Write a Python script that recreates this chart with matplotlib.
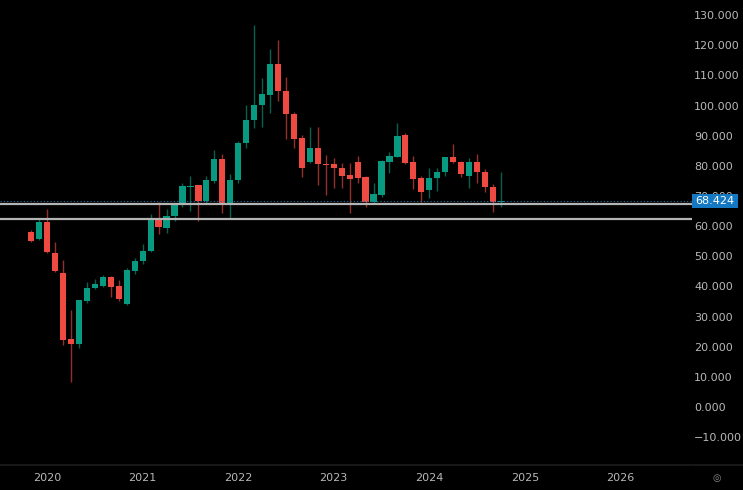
import numpy as np
import pandas as pd
import matplotlib
matplotlib.use("Agg")
import matplotlib.pyplot as plt
from matplotlib.patches import Rectangle
from matplotlib.lines import Line2D
from matplotlib.transforms import blended_transform_factory

# monthly candles, Nov 2019 .. Oct 2024
first_month = "2019-11"
opens = [57.9, 55.6, 61.3, 51.2, 44.3, 22.4, 20.9, 35.3, 39.4, 40.1, 43.1, 40.1,
         34.3, 45.2, 48.4, 51.7, 62.3, 59.5, 63.4, 67.2, 73.0, 73.5, 68.4, 75.1,
         82.3, 66.9, 75.3, 87.5, 95.1, 100.2, 103.5, 113.9, 104.9, 97.3, 89.1, 81.2,
         85.8, 80.5, 80.5, 79.4, 76.9, 81.2, 76.2, 67.9, 70.3, 81.4, 83.0, 90.2,
         81.2, 75.9, 72.0, 75.8, 77.9, 82.9, 81.3, 76.6, 81.4, 78.0, 73.1, 68.1]
highs = [58.7, 62.2, 65.7, 54.8, 48.8, 32.2, 35.5, 41.6, 42.5, 43.8, 43.4, 42.1,
         46.2, 49.4, 54.1, 63.9, 68.0, 65.6, 67.0, 74.2, 76.6, 73.8, 76.6, 85.2,
         83.9, 77.3, 88.3, 100.2, 126.7, 109.2, 118.7, 121.6, 109.6, 97.7, 90.2, 92.8,
         93.0, 83.6, 82.7, 80.8, 80.8, 83.4, 76.5, 74.4, 81.8, 84.5, 94.1, 90.8,
         83.4, 76.7, 79.4, 79.4, 83.0, 87.2, 81.5, 82.5, 84.0, 78.9, 74.0, 78.0]
lows = [54.7, 55.4, 51.2, 44.9, 20.6, 8.4, 19.7, 34.6, 39.0, 39.9, 36.4, 35.2,
        33.7, 44.1, 47.3, 51.5, 57.4, 57.8, 61.8, 66.5, 65.1, 61.8, 67.2, 74.2,
        64.4, 62.5, 74.4, 86.0, 92.4, 93.0, 97.4, 101.5, 88.8, 85.8, 76.4, 80.8,
        73.6, 70.3, 72.7, 72.7, 64.4, 74.2, 66.4, 67.2, 69.8, 77.5, 82.8, 80.6,
        72.3, 68.1, 69.4, 71.6, 76.6, 81.0, 76.3, 72.7, 74.4, 71.4, 64.8, 66.4]
closes = [55.1, 61.5, 51.5, 45.2, 22.2, 20.9, 35.5, 39.6, 40.8, 43.1, 39.9, 35.8,
          45.4, 48.5, 51.8, 62.3, 59.6, 63.4, 66.9, 73.2, 73.4, 68.4, 75.3, 82.3,
          66.9, 75.3, 87.7, 95.2, 100.3, 103.8, 113.9, 104.8, 97.2, 88.9, 79.2, 85.8,
          80.5, 80.2, 79.2, 76.7, 75.7, 76.1, 67.9, 70.5, 81.6, 83.2, 90.0, 81.0,
          75.7, 71.4, 76.1, 78.0, 82.9, 81.3, 77.2, 81.4, 77.8, 73.1, 68.1, 68.424]

# horizontal levels drawn on the chart
levels = [67.2, 62.4]
last_price = 68.424

y_ticks = list(range(-10, 140, 10))
years = ["2020", "2021", "2022", "2023", "2024", "2025", "2026"]

UP = "#089981"
DOWN = "#ef4a42"
UP_WICK = "#06604f"
DOWN_WICK = "#94302b"
TXT = "#b8b8b8"


def draw_chart():
    fig = plt.figure(figsize=(7.43, 4.90), dpi=100, facecolor="black")
    ax = fig.add_axes([0, 25 / 490, 692 / 743, 465 / 490], facecolor="black")

    o = np.array(opens)
    h = np.array(highs)
    l = np.array(lows)
    c = np.array(closes)
    x = np.arange(len(o))
    up = c >= o
    cols = [UP if u else DOWN for u in up]
    wcols = [UP_WICK if u else DOWN_WICK for u in up]

    # wicks then bodies
    ax.vlines(x, l, h, colors=wcols, linewidth=1, zorder=2)
    body = np.maximum(np.abs(c - o), 0.35)
    ax.bar(x, body, bottom=np.minimum(o, c), width=0.78, color=cols,
           linewidth=0, zorder=3)

    # support lines + last price line
    for lv in levels:
        ax.axhline(lv, color="#b4b4b4", linewidth=1.6, zorder=4)
    ax.axhline(last_price, color="#1f6fa5", linewidth=0.8, linestyle=(0, (1, 2)),
               zorder=4)

    ax.set_xlim(-3.92, 83.0)
    ax.set_ylim(-19.24, 135.0)

    # year ticks on the january bars
    months = pd.period_range(first_month, periods=90, freq="M")
    jan_idx = [i for i, m in enumerate(months) if m.month == 1][:len(years)]
    ax.set_xticks(jan_idx)
    ax.set_xticklabels(years)

    ax.yaxis.tick_right()
    ax.set_yticks(y_ticks)
    ax.set_yticklabels(["{:.3f}".format(v).replace("-", "\u2212") for v in y_ticks])
    ax.tick_params(axis="y", length=0, pad=1.5, labelsize=8, labelcolor=TXT)
    ax.tick_params(axis="x", length=0, pad=5.5, labelsize=8, labelcolor=TXT)
    for lab in ax.get_yticklabels():
        lab.set_horizontalalignment("left")

    for side in ["top", "left", "right"]:
        ax.spines[side].set_visible(False)
    ax.spines["bottom"].set_color("#1e1e1e")
    ax.spines["bottom"].set_linewidth(1.2)
    # separator continues under the price scale
    fig.add_artist(Line2D([694 / 743, 1], [25 / 490, 25 / 490], color="#1e1e1e",
                          linewidth=1.2))

    # last price label on the axis
    tr = blended_transform_factory(ax.transAxes, ax.transData)
    ax.add_patch(Rectangle((1.0, last_price - 2.35), 0.066, 4.7, transform=tr,
                           facecolor="#1478c2", edgecolor="none", clip_on=False,
                           zorder=10))
    ax.text(1.005, last_price, "68.424", transform=tr, color="white", fontsize=8,
            ha="left", va="center", zorder=11, clip_on=False)

    fig.text(717 / 743, 1 - 478 / 490, "\u25ce", color="#8a8a8a", fontsize=7,
             ha="center", va="center")

    fig.savefig("out.png", dpi=100, facecolor="black")


def main():
    draw_chart()


if __name__ == "__main__":
    main()
